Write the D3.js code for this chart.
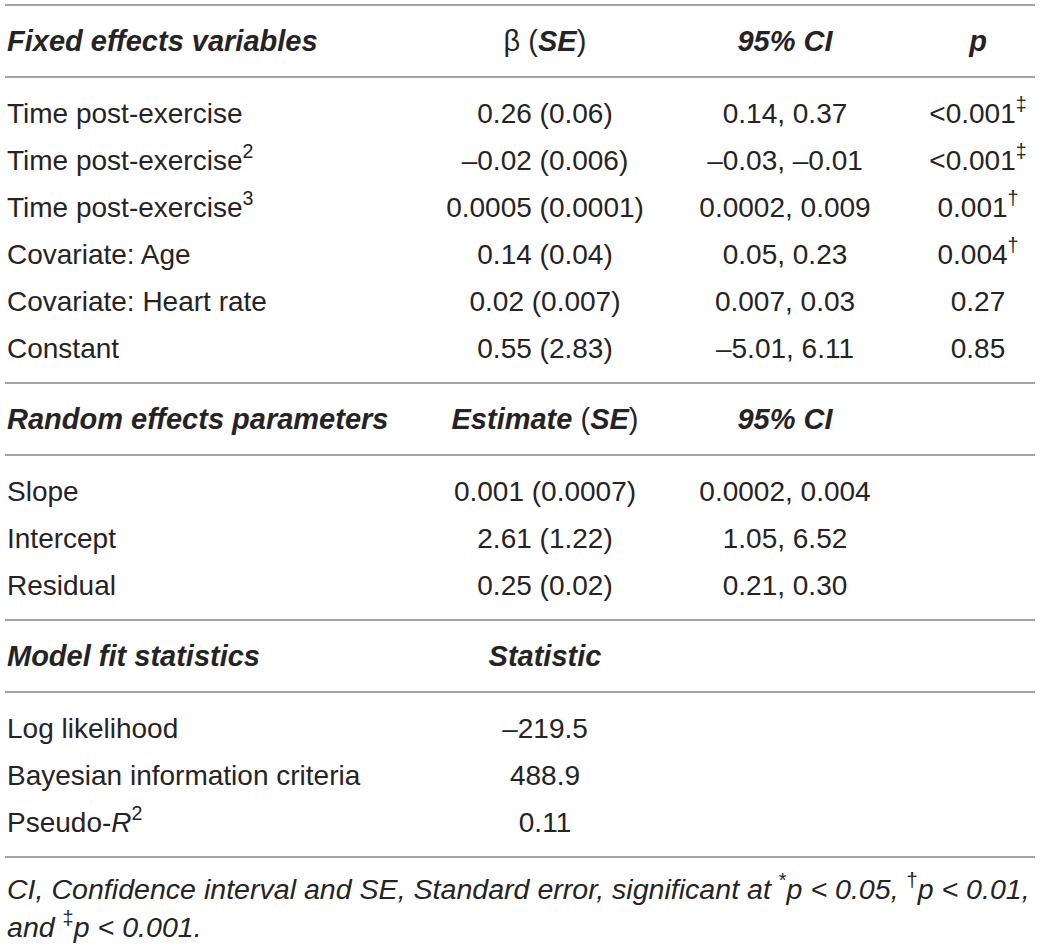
<!DOCTYPE html>
<html>
<head>
<meta charset="utf-8">
<script src="https://cdn.jsdelivr.net/npm/d3@7"></script>
<style>
  html, body { margin: 0; padding: 0; background: #fff; }
  svg { display: block; }
</style>
</head>
<body>
<svg id="table"></svg>
<script>
// Table contents
const fixedVars   = ["Time post-exercise", "Time post-exercise", "Time post-exercise", "Covariate: Age", "Covariate: Heart rate", "Constant"];
const fixedPowers = ["", "2", "3", "", "", ""];
const fixedBeta   = ["0.26 (0.06)", "–0.02 (0.006)", "0.0005 (0.0001)", "0.14 (0.04)", "0.02 (0.007)", "0.55 (2.83)"];
const fixedCI     = ["0.14, 0.37", "–0.03, –0.01", "0.0002, 0.009", "0.05, 0.23", "0.007, 0.03", "–5.01, 6.11"];
const fixedP      = ["<0.001", "<0.001", "0.001", "0.004", "0.27", "0.85"];
const fixedSig    = ["‡", "‡", "†", "†", "", ""];

const randomParams = ["Slope", "Intercept", "Residual"];
const randomEst    = ["0.001 (0.0007)", "2.61 (1.22)", "0.25 (0.02)"];
const randomCI     = ["0.0002, 0.004", "1.05, 6.52", "0.21, 0.30"];

const fitStats  = ["Log likelihood", "Bayesian information criteria", "Pseudo-"];
const fitValues = ["–219.5", "488.9", "0.11"];

const columns = ["label", "est", "ci", "p"];

const width = 1040, height = 950;
const font = "'Liberation Sans', Arial, Helvetica, sans-serif";

const svg = d3.select("#table")
  .attr("width", width)
  .attr("height", height)
  .attr("viewBox", `0 0 ${width} ${height}`);

const x = d3.scaleOrdinal().domain(columns).range([7, 545, 785, 978]);
const anchor = d3.scaleOrdinal().domain(columns).range(["start", "middle", "middle", "middle"]);

// segment helpers: plain, bold italic, italic, superscript
const N = t => ({ t, s: "n" });
const B = t => ({ t, s: "b" });
const I = t => ({ t, s: "i" });
const S = t => ({ t, s: "sup" });

function cell(g, col, y, segs, size = 28) {
  const text = g.append("text")
    .attr("x", x(col))
    .attr("y", y)
    .attr("dy", "0.35em")
    .attr("text-anchor", anchor(col))
    .attr("font-family", font)
    .attr("font-size", size)
    .attr("fill", "#262324");
  let raised = false;
  segs.filter(d => d.t !== "").forEach(d => {
    const ts = text.append("tspan").text(d.t);
    if (d.s === "b") ts.attr("font-weight", "bold").attr("font-style", "italic");
    if (d.s === "i") ts.attr("font-style", "italic");
    if (d.s === "sup") {
      ts.attr("font-size", size * 0.7).attr("dy", -12);
      raised = true;
    } else if (raised) {
      ts.attr("dy", 12);
      raised = false;
    }
  });
  return text;
}

function rule(y) {
  svg.append("line")
    .attr("x1", 5).attr("x2", 1035)
    .attr("y1", y).attr("y2", y)
    .attr("stroke", "#a3a3a3")
    .attr("stroke-width", 2);
}

// sections: header block then body rows
const headH = 72, rowH = 47, pad = 36;
const sections = [
  {
    head: [["label", [B("Fixed effects variables")]],
           ["est", [N("β ("), B("SE"), N(")")]],
           ["ci", [B("95% CI")]],
           ["p", [B("p")]]],
    rows: fixedVars.map((v, i) => [
      ["label", [N(v), S(fixedPowers[i])]],
      ["est", [N(fixedBeta[i])]],
      ["ci", [N(fixedCI[i])]],
      ["p", [N(fixedP[i]), S(fixedSig[i])]]
    ])
  },
  {
    head: [["label", [B("Random effects parameters")]],
           ["est", [B("Estimate"), N(" ("), B("SE"), N(")")]],
           ["ci", [B("95% CI")]]],
    rows: randomParams.map((v, i) => [
      ["label", [N(v)]],
      ["est", [N(randomEst[i])]],
      ["ci", [N(randomCI[i])]]
    ])
  },
  {
    head: [["label", [B("Model fit statistics")]],
           ["est", [B("Statistic")]]],
    rows: fitStats.map((v, i) => [
      ["label", i === 2 ? [N(v), I("R"), S("2")] : [N(v)]],
      ["est", [N(fitValues[i])]]
    ])
  }
];

let yPos = 5;
rule(yPos);
sections.forEach(sec => {
  const g = svg.append("g");
  sec.head.forEach(([col, segs]) => cell(g, col, yPos + headH / 2, segs, 29));
  yPos += headH;
  rule(yPos);
  const y = d3.scaleLinear().domain([0, 1]).range([yPos + pad, yPos + pad + rowH]);
  sec.rows.forEach((r, i) => r.forEach(([col, segs]) => cell(g, col, y(i), segs)));
  yPos = y(sec.rows.length - 1) + pad - 1;
  rule(yPos);
});

// footnote, squeezed to the table width
const note = svg.append("g");
const line1 = cell(note, "label", yPos + 32,
  [I("CI, Confidence interval and SE, Standard error, significant at "), S("*"), I("p < 0.05, "),
   S("†"), I("p < 0.01,")], 28);
const line2 = cell(note, "label", yPos + 70, [I("and "), S("‡"), I("p < 0.001.")], 28);
const w1 = line1.node().getComputedTextLength();
const sx = (1030 - 7) / w1;
[line1, line2].forEach(t => t.attr("transform", `translate(7,0) scale(${sx},1) translate(-7,0)`));
</script>
</body>
</html>
